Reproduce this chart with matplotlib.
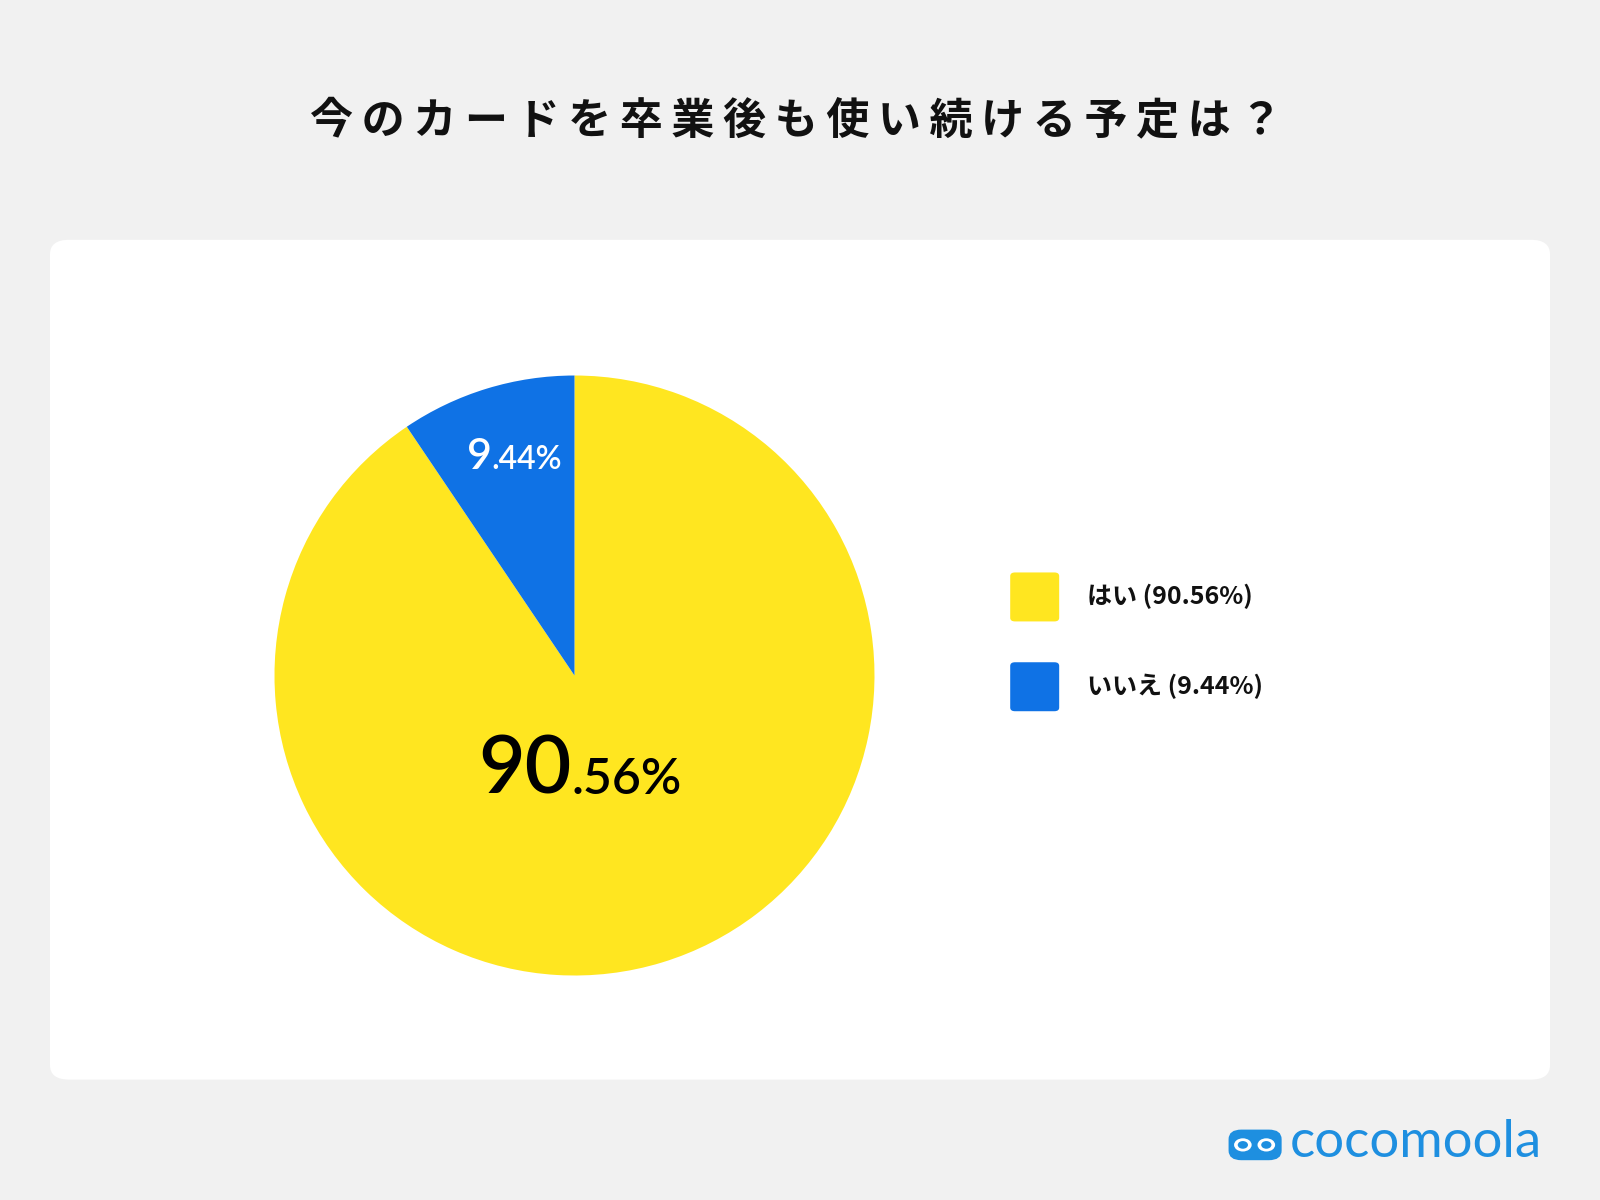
import matplotlib
matplotlib.use("Agg")
import matplotlib.pyplot as plt
from matplotlib.patches import FancyBboxPatch, Circle

plt.rcParams['font.family'] = ['Noto Sans CJK JP', 'DejaVu Sans']

title = "今のカードを卒業後も使い続ける予定は？"
labels = ["はい", "いいえ"]
values = [90.56, 9.44]
colors = ["#FFE620", "#0F72E5"]

W, H = 1568, 1176
def fx(x): return x / W
def fy(y): return 1 - y / H

fig = plt.figure(figsize=(16, 12), dpi=100)
fig.patch.set_facecolor("#F1F1F1")

# white panel
panel = FancyBboxPatch((fx(49), fy(1058)), fx(1519) - fx(49), fy(235) - fy(1058),
                       boxstyle="round,pad=0,rounding_size=0.012",
                       transform=fig.transFigure, facecolor="white", edgecolor="none",
                       zorder=-1)
fig.patches.append(panel)

fig.text(fx(780), fy(118), "\u2009".join(title), ha="center", va="center",
         fontsize=31, fontweight="bold", color="#111111")

# pie
r = 294
ax = fig.add_axes([fx(563 - r), fy(662 + r), 2 * r / W, 2 * r / H], zorder=2)
ax.pie(values, colors=colors, startangle=90, counterclock=False,
       wedgeprops=dict(linewidth=0))
ax.set_xlim(-1, 1)
ax.set_ylim(-1, 1)
ax.set_aspect("auto")
ax.axis("off")

def split_label(v, x, y, big, small, color):
    whole, frac = f"{v:.2f}".split(".")
    ax.text(x, y, whole, ha="right", va="baseline", fontsize=big, color=color,
            family="Lato", fontweight="semibold")
    ax.text(x, y, "." + frac + "%", ha="left", va="baseline", fontsize=small,
            color=color, family="Lato", fontweight="semibold")

split_label(values[0], (560 - 563) / r, -(778 - 662) / r, 58, 36, "black")
split_label(values[1], (482 - 563) / r, -(460 - 662) / r, 31, 23, "white")

# legend
for i, (lab, v, c) in enumerate(zip(labels, values, colors)):
    yc = 585 + i * 88
    fig.patches.append(FancyBboxPatch((fx(990), fy(yc + 24)), 48 / W, 48 / H,
                                      boxstyle="round,pad=0,rounding_size=0.003",
                                      transform=fig.transFigure, facecolor=c,
                                      edgecolor="none"))
    fig.text(fx(1065), fy(yc), f"{lab} ({v:.2f}%)", ha="left", va="center",
             fontsize=18, fontweight="bold", color="#111111")

# logo
blue = "#1E8FE0"
fig.patches.append(FancyBboxPatch((fx(1204), fy(1137)), 52 / W, 30 / H,
                                  boxstyle="round,pad=0,rounding_size=0.008",
                                  transform=fig.transFigure, facecolor=blue,
                                  edgecolor="none"))
for cx in (1218, 1241):
    fig.patches.append(Circle((fx(cx), fy(1122)), 0.0055, transform=fig.transFigure,
                              facecolor="white", edgecolor="none"))
    fig.patches.append(Circle((fx(cx), fy(1122)), 0.0032, transform=fig.transFigure,
                              facecolor=blue, edgecolor="none"))
fig.text(fx(1264), fy(1120), "cocomoola", ha="left", va="center", fontsize=38,
         color=blue, family="Lato")

fig.savefig("out.png", dpi=100, facecolor=fig.get_facecolor())
